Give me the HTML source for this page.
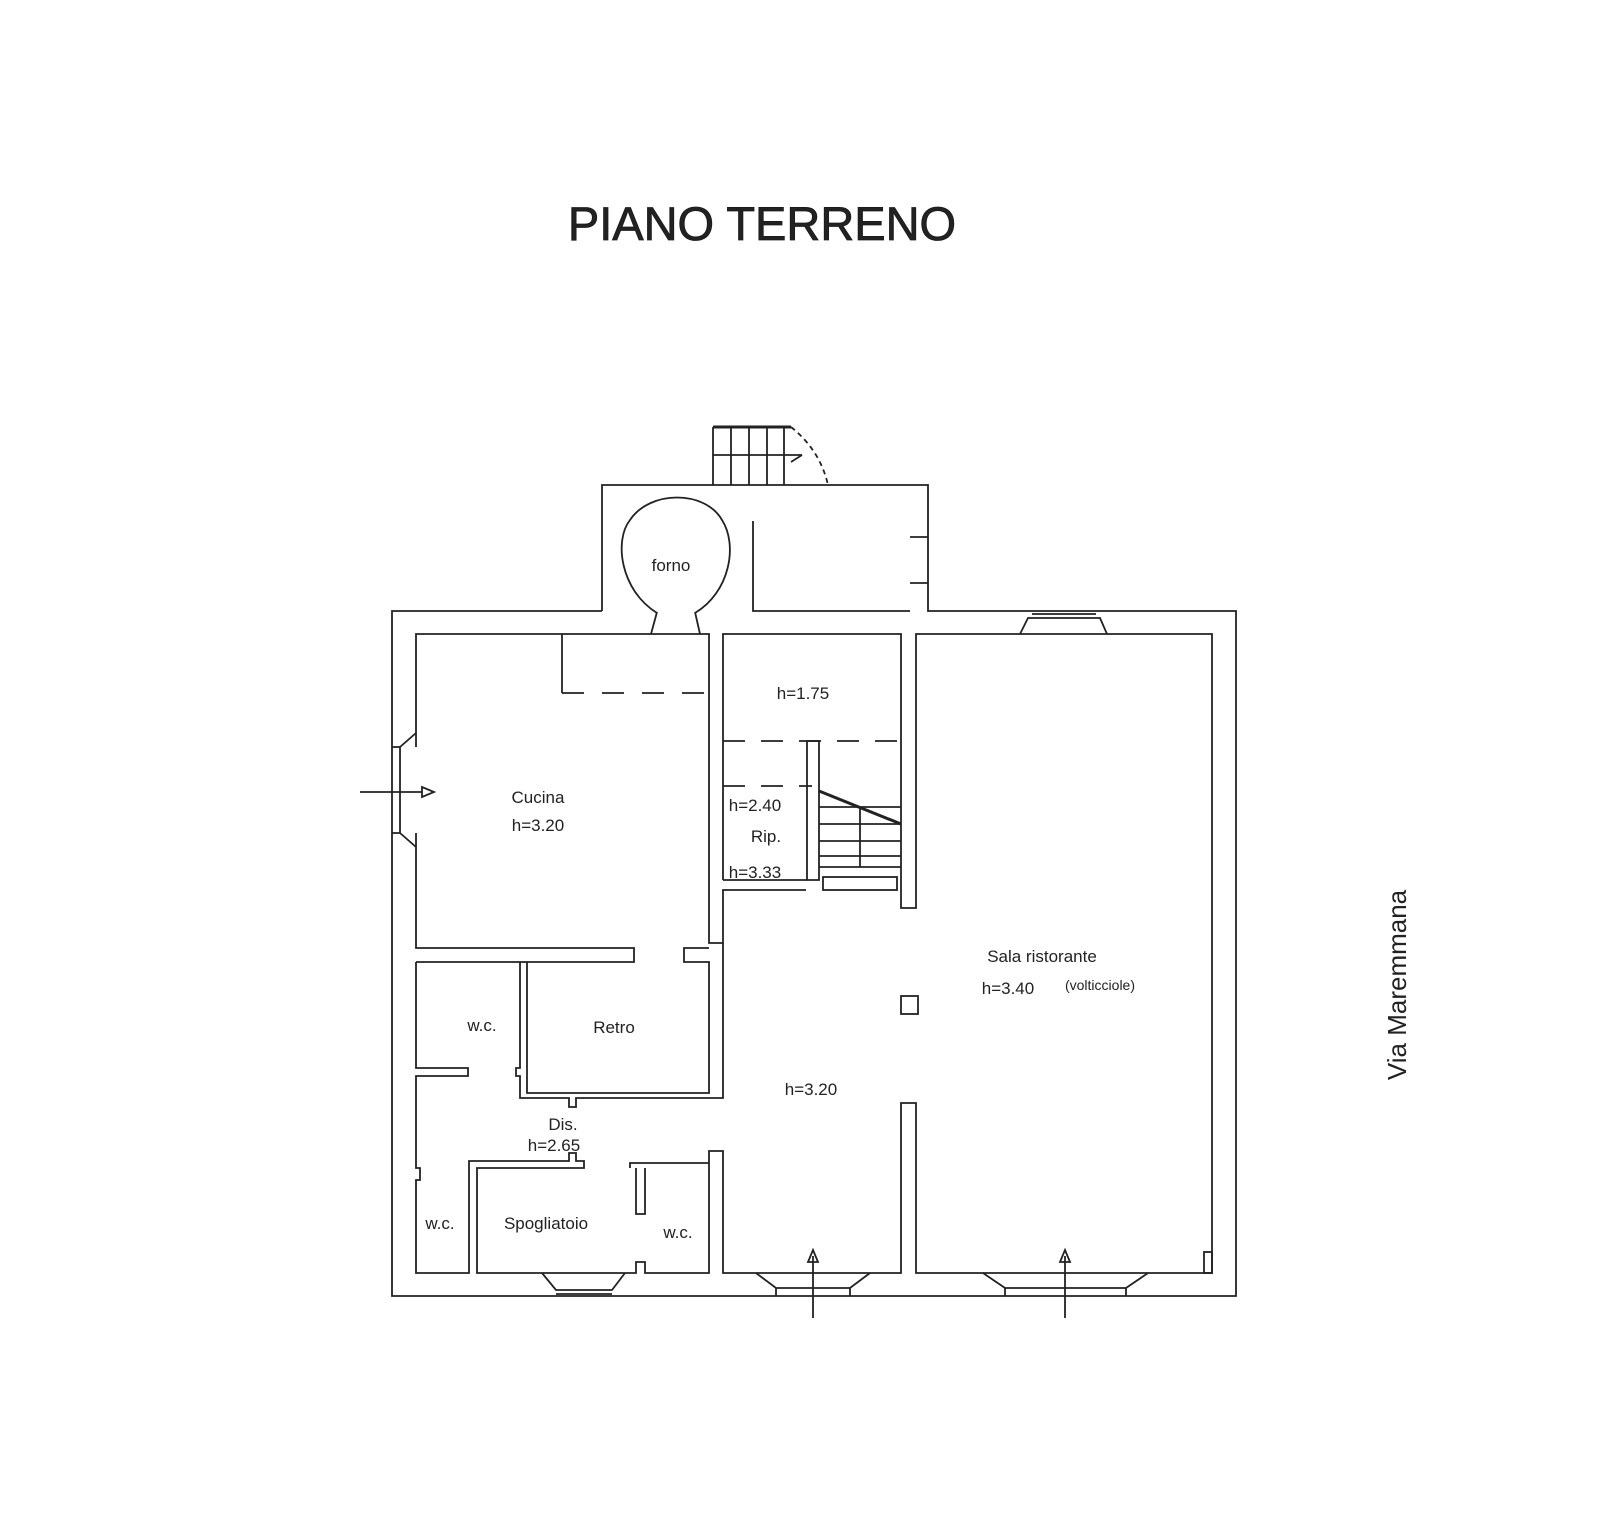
<!DOCTYPE html>
<html><head><meta charset="utf-8"><style>
html,body{margin:0;padding:0;background:#fff}
svg{display:block}
text{font-family:"Liberation Sans",sans-serif;fill:#222}
</style></head><body>
<svg width="1623" height="1539" viewBox="0 0 1623 1539" xmlns="http://www.w3.org/2000/svg">
<text x="762" y="240" font-size="47" text-anchor="middle" fill="#1a1a1a" stroke="#1a1a1a" stroke-width="0.8">PIANO TERRENO</text>
<g fill="none" stroke="#222" stroke-width="1.8">
<polyline points="602,611 602,485 928,485 928,611 1236,611 1236,1296 392,1296 392,611 602,611"/>
<polyline points="753,521 753,611 910,611"/>
<line x1="910" y1="537" x2="928" y2="537"/><line x1="910" y1="583" x2="928" y2="583"/>
<line x1="713" y1="427" x2="791" y2="427" stroke-width="3"/>
<line x1="713" y1="455" x2="802" y2="455"/>
<line x1="713" y1="427" x2="713" y2="485"/><line x1="731" y1="427" x2="731" y2="485"/>
<line x1="749" y1="427" x2="749" y2="485"/><line x1="767" y1="427" x2="767" y2="485"/>
<line x1="784" y1="427" x2="784" y2="485"/>
<path d="M791,427 Q820,450 828,485" stroke-dasharray="5,4"/>
<line x1="791" y1="462" x2="802" y2="455"/>
<path d="M657,613 C620,590 614,540 630,520 C650,490 705,490 722,520 C738,545 730,592 695,613"/>
<line x1="657" y1="612" x2="651" y2="634"/><line x1="695" y1="612" x2="700" y2="634"/>
<polyline points="416,747 416,634 709,634 709,943 723,943 723,890 806,890"/>
<polyline points="416,833 416,948 634,948 634,962 416,962"/>
<polyline points="709,948 684,948 684,962 709,962 709,1093 527,1093 527,962"/>
<polyline points="392,747 400,747 416,733"/><polyline points="392,833 400,833 416,847"/>
<line x1="400" y1="747" x2="400" y2="833"/>
<polyline points="562,634 562,693" /><line x1="562" y1="693" x2="709" y2="693" stroke-dasharray="22,18"/>
<line x1="360" y1="792" x2="422" y2="792"/>
<polygon points="422,787 434,792 422,797"/>
<polyline points="723,880 723,634 901,634 901,908 916,908 916,634 1212,634 1212,1273 916,1273 916,1103 901,1103 901,1273 723,1273 723,1151 709,1151 709,1273 645,1273 645,1262 636,1262 636,1273 477,1273 477,1168 584,1168 584,1161 576,1161 576,1153 569,1153 569,1161 469,1161 469,1273 416,1273 416,1180 420,1180 420,1168 416,1168 416,1076 468,1076 468,1068 416,1068 416,962"/>
<polyline points="520,962 520,1068 516,1068 516,1076 520,1076 520,1098 569,1098 569,1107 576,1107 576,1098 723,1098 723,943"/>
<line x1="723" y1="741" x2="901" y2="741" stroke-dasharray="22,16"/>
<line x1="723" y1="786" x2="812" y2="786" stroke-dasharray="22,16"/>
<polyline points="807,741 819,741 819,880 807,880 807,741"/>
<line x1="723" y1="880" x2="807" y2="880"/>
<rect x="823" y="877" width="74" height="13"/>
<line x1="819" y1="807" x2="901" y2="807"/><line x1="819" y1="824" x2="901" y2="824"/>
<line x1="819" y1="841" x2="901" y2="841"/><line x1="819" y1="856" x2="901" y2="856"/>
<line x1="819" y1="867" x2="901" y2="867"/><line x1="860" y1="807" x2="860" y2="867"/>
<line x1="819" y1="791" x2="901" y2="824" stroke-width="3"/>
<polyline points="630,1168 630,1163 709,1163"/>
<polyline points="636,1168 636,1214 645,1214 645,1168"/>
<rect x="901" y="996" width="17" height="18"/>
<rect x="1204" y="1252" width="8" height="21"/>
<polyline points="1020,634 1028,618 1100,618 1107,634"/><line x1="1032" y1="614" x2="1096" y2="614"/>
<polyline points="542,1273 556,1290 612,1290 625,1273"/><line x1="556" y1="1294" x2="612" y2="1294"/>
<polyline points="756,1273 776,1288 850,1288 870,1273"/><line x1="776" y1="1288" x2="776" y2="1296"/><line x1="850" y1="1288" x2="850" y2="1296"/>
<polyline points="983,1273 1005,1288 1126,1288 1148,1273"/><line x1="1005" y1="1288" x2="1005" y2="1296"/><line x1="1126" y1="1288" x2="1126" y2="1296"/>
<line x1="813" y1="1256" x2="813" y2="1318"/><polygon points="808,1262 813,1250 818,1262"/>
<line x1="1065" y1="1256" x2="1065" y2="1318"/><polygon points="1060,1262 1065,1250 1070,1262"/>
</g>
<g font-size="17">
<text x="671" y="571" text-anchor="middle">forno</text>
<text x="803" y="699" text-anchor="middle">h=1.75</text>
<text x="538" y="803" text-anchor="middle">Cucina</text>
<text x="538" y="831" text-anchor="middle">h=3.20</text>
<text x="755" y="811" text-anchor="middle">h=2.40</text>
<text x="766" y="842" text-anchor="middle">Rip.</text>
<text x="755" y="878" text-anchor="middle">h=3.33</text>
<text x="1042" y="962" text-anchor="middle">Sala ristorante</text>
<text x="1008" y="994" text-anchor="middle">h=3.40</text>
<text x="1100" y="990" text-anchor="middle" font-size="14">(volticciole)</text>
<text x="482" y="1031" text-anchor="middle">w.c.</text>
<text x="614" y="1033" text-anchor="middle">Retro</text>
<text x="811" y="1095" text-anchor="middle">h=3.20</text>
<text x="563" y="1130" text-anchor="middle">Dis.</text>
<text x="554" y="1151" text-anchor="middle">h=2.65</text>
<text x="440" y="1229" text-anchor="middle">w.c.</text>
<text x="546" y="1229" text-anchor="middle">Spogliatoio</text>
<text x="678" y="1238" text-anchor="middle">w.c.</text>
</g>
<text x="0" y="0" font-size="26" text-anchor="middle" transform="translate(1406,985) rotate(-90)">Via Maremmana</text>
</svg>
</body></html>
